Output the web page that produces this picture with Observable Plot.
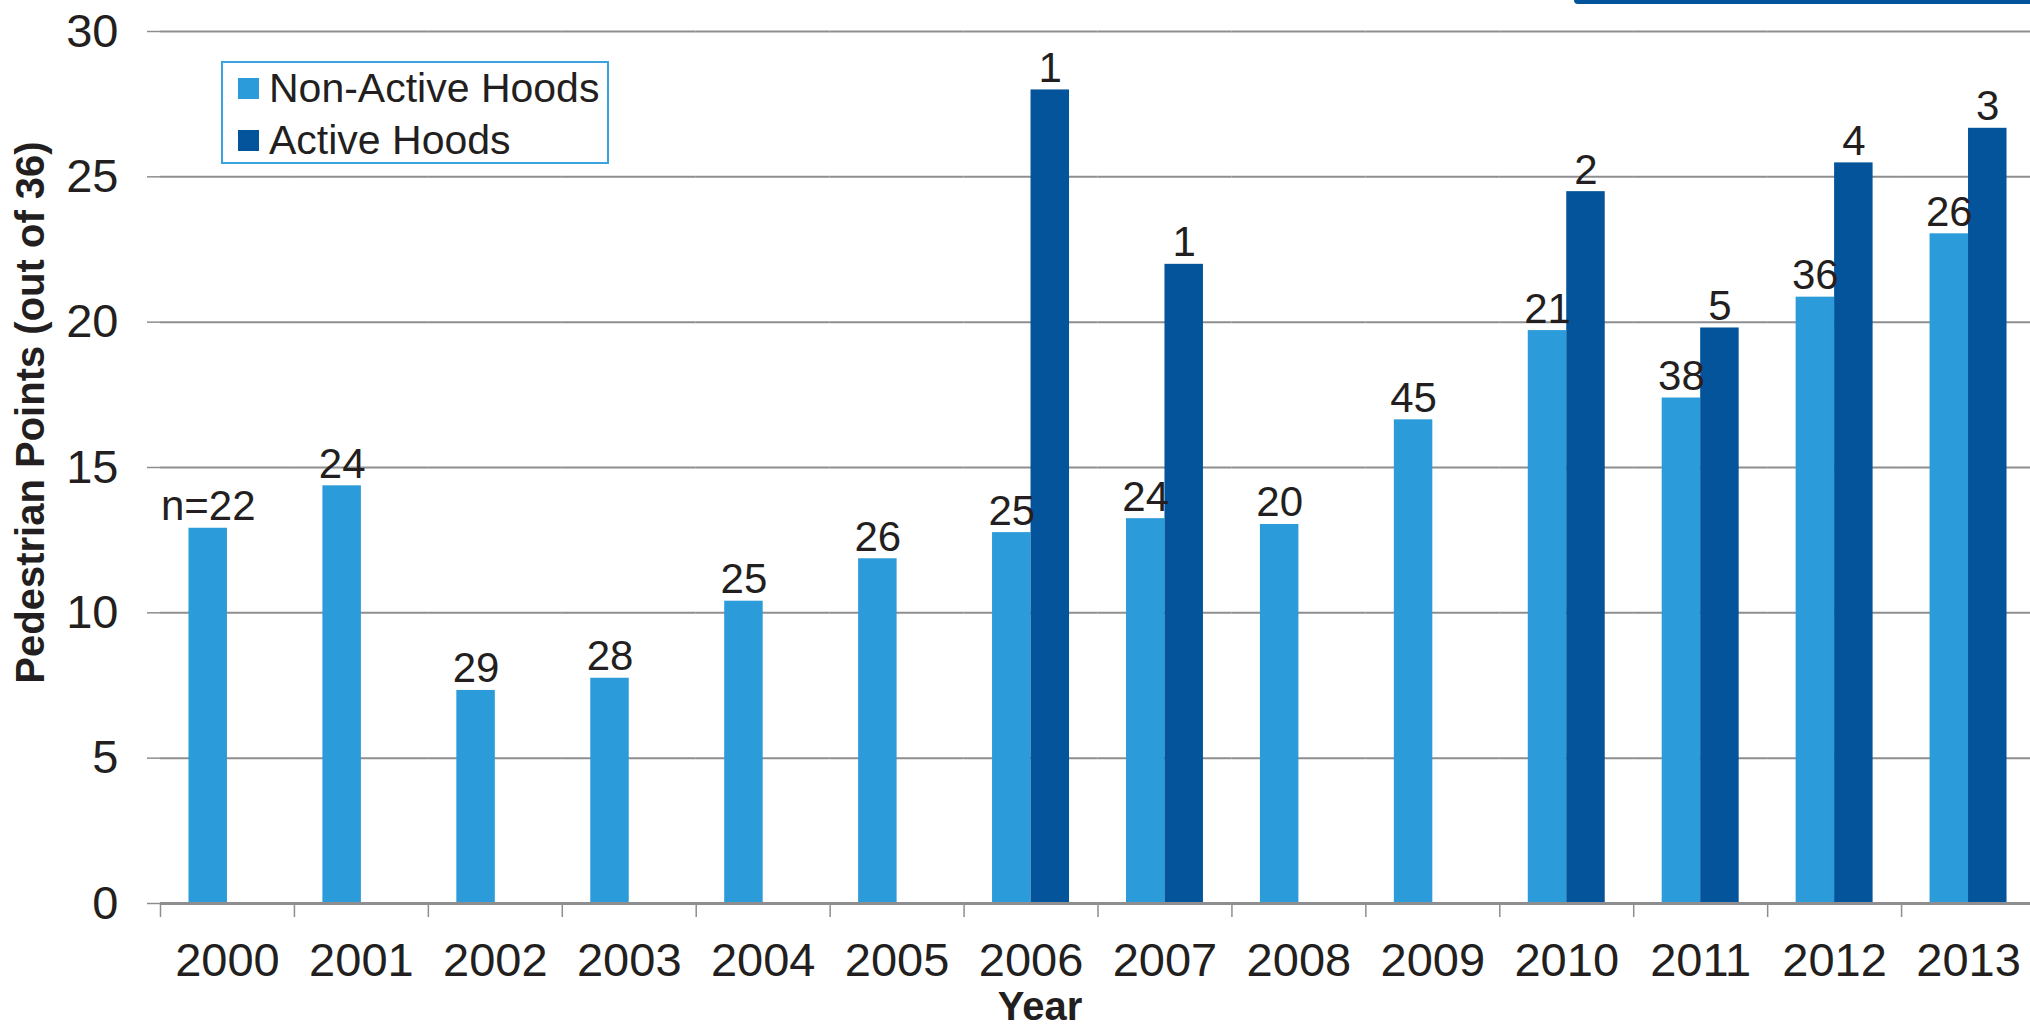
<!DOCTYPE html>
<html>
<head>
<meta charset="utf-8">
<script src="https://cdn.jsdelivr.net/npm/d3@7"></script>
<script src="https://cdn.jsdelivr.net/npm/@observablehq/plot@0.6"></script>
<style>
  html, body { margin: 0; padding: 0; background: #ffffff; }
  #wrap { position: relative; width: 2030px; height: 1024px; overflow: hidden;
          font-family: "Liberation Sans", Arial, Helvetica, sans-serif; color: #231f20; }
  #band { position: absolute; left: 1574px; top: 0; width: 470px; height: 4px;
          background: #03549a; border-bottom-left-radius: 4px; z-index: 2; }
  #legend { position: absolute; left: 221px; top: 61px; width: 384px; height: 99px;
            border: 2px solid #3aa2dd; background: #ffffff; z-index: 2; }
  #legend .row { position: absolute; left: 15px; height: 46px; display: flex; align-items: center;
                 font-size: 41px; line-height: 46px; white-space: nowrap; }
  #legend .sw { width: 21px; height: 21px; margin-right: 10px; flex: none; }
</style>
</head>
<body>
<div id="wrap">
  <div id="band"></div>
  <div id="legend"></div>
  <div id="chart"></div>
</div>
<script>
// Years on the horizontal axis
const years = ["2000", "2001", "2002", "2003", "2004", "2005", "2006",
               "2007", "2008", "2009", "2010", "2011", "2012", "2013"];

// Series names
const groups = ["Non-Active Hoods", "Active Hoods"];

// Mean pedestrian points (out of 36) per year
const nonActiveValues = [12.91, 14.37, 7.33, 7.75, 10.40, 11.86, 12.76,
                         13.24, 13.04, 16.64, 19.71, 17.39, 20.86, 23.04];
const activeValues = [null, null, null, null, null, null, 27.99,
                      21.99, null, null, 24.49, 19.80, 25.48, 26.67];

// Sample size shown above each bar
const nonActiveCounts = ["n=22", "24", "29", "28", "25", "26", "25",
                         "24", "20", "45", "21", "38", "36", "26"];
const activeCounts = [null, null, null, null, null, null, "1",
                      "1", null, null, "2", "5", "4", "3"];

// Y axis ticks
const yTicks = [0, 5, 10, 15, 20, 25, 30];

const lightBlue = "#2c9bd9";
const darkBlue = "#03549a";
const ink = "#231f20";
const grey = "#8e8e90";

// Long-format table for the grouped bars
const rows = years.flatMap((year, i) => [
  {year, group: groups[0], value: nonActiveValues[i], label: nonActiveCounts[i]},
  {year, group: groups[1], value: activeValues[i], label: activeCounts[i]}
]).filter(d => d.value != null);

const W = 2030, H = 1024;
const marginLeft = 160, marginRight = -5, marginTop = 31, marginBottom = 121;
const step = (W - marginLeft - marginRight) / years.length;

const chart = Plot.plot({
  width: W,
  height: H,
  marginLeft, marginRight, marginTop, marginBottom,
  style: {fontFamily: "'Liberation Sans', Arial, Helvetica, sans-serif", color: ink, background: "#ffffff"},
  fx: {domain: years, padding: 0, round: false, label: null, axis: null},
  x: {domain: groups, paddingInner: 0, paddingOuter: 0.74, round: false, axis: null},
  y: {domain: [0, 30], label: null, axis: null},
  color: {domain: groups, range: [lightBlue, darkBlue]},
  marks: [
    Plot.gridY(yTicks, {stroke: grey, strokeOpacity: 1, strokeWidth: 2}),
    Plot.barY(rows, {fx: "year", x: "group", y: "value", fill: "group"}),
    Plot.ruleY([0], {stroke: grey, strokeWidth: 3}),
    Plot.text(rows, {fx: "year", x: "group", y: "value", text: "label",
                     lineAnchor: "bottom", dy: -8, fontSize: 42, fill: ink}),
    Plot.axisY(yTicks, {tickSize: 13, tickPadding: 29, fontSize: 47, stroke: grey,
                        strokeWidth: 1.5, fill: ink, line: true, label: null}),
    Plot.axisFx({anchor: "bottom", tickSize: 0, tickPadding: 39, fontSize: 47,
                 fill: ink, label: null}),
    Plot.axisFx({anchor: "bottom", tickSize: 14, dx: -step / 2, stroke: grey,
                 strokeWidth: 1.5, tickFormat: () => "", label: null}),
    Plot.text(["Pedestrian Points (out of 36)"], {
      facet: "super", frameAnchor: "left", rotate: -90, lineAnchor: "top", textAnchor: "middle",
      dx: -145, dy: -55, fontSize: 40, fontWeight: "bold", fill: ink
    }),
    Plot.text(["Year"], {
      facet: "super", frameAnchor: "bottom", lineAnchor: "bottom",
      dx: -58, dy: 116, fontSize: 40, fontWeight: "bold", fill: ink
    })
  ]
});
document.getElementById("chart").append(chart);

// Legend box in the upper-left of the plot area
const legend = document.getElementById("legend");
groups.forEach((g, i) => {
  const row = document.createElement("div");
  row.className = "row";
  row.style.top = (2 + i * 52) + "px";
  const sw = document.createElement("span");
  sw.className = "sw";
  sw.style.background = i === 0 ? lightBlue : darkBlue;
  const label = document.createElement("span");
  label.textContent = g;
  row.append(sw, label);
  legend.append(row);
});
</script>
</body>
</html>
